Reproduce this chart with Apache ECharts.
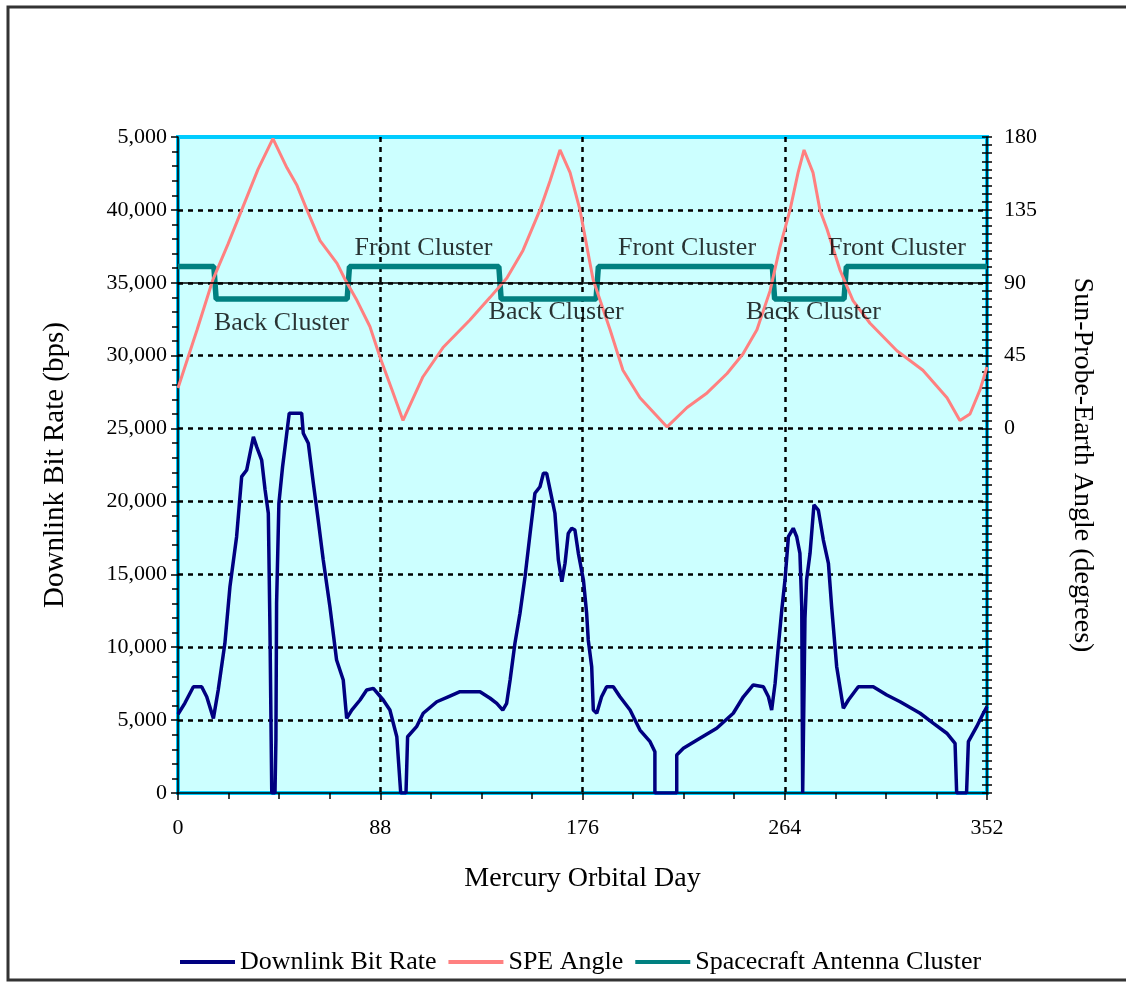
<!DOCTYPE html>
<html>
<head>
<meta charset="utf-8">
<style>html,body{margin:0;padding:0;background:#fff;}#c{width:1126px;height:983px;}</style>
<script src="https://cdn.jsdelivr.net/npm/echarts@6/dist/echarts.min.js"></script>
</head>
<body>
<div id="c"></div>
<script>
// ---- data ----
var seriesNames = ['Downlink Bit Rate', 'SPE Angle', 'Spacecraft Antenna Cluster'];
var xTickLabels = ['0', '88', '176', '264', '352'];
var leftTickLabels = ['0', '5,000', '10,000', '15,000', '20,000', '25,000', '30,000', '35,000', '40,000', '5,000'];
var rightTickLabels = ['', '', '', '', '', '0', '45', '90', '135', '180'];

var downDays = [0,0.6,3,6.7,10.3,12.5,15.4,17.5,20.4,22.6,25.5,27.7,29.9,32.8,34.2,36.4,37.9,39.3,40.0,40.8,42.2,42.6,42.9,43.9,45.5,46.6,48.4,53.8,54.5,56.7,58.9,61.0,63.2,66.1,69.0,71.9,73.4,75.6,79.2,82.1,85.0,89.3,92.2,95.2,96.9,99.2,99.9,103.8,106.7,112.6,118.3,122.7,131.4,135.8,138.7,141.3,143.0,144.5,146.6,148.8,151.0,153.2,155.3,157.5,159.0,160.4,161.9,164.0,165.5,167.0,168.4,169.8,171.3,172.7,174.2,176.4,177.8,178.5,180.0,180.7,182.2,184.3,186.5,189.4,192.3,196.7,201.0,205.4,207.5,207.5,217.0,217.0,219.9,227.1,234.4,241.6,246.0,250.3,254.7,256.9,258.3,259.8,261.2,262.7,264.1,265.6,267.7,269.2,270.6,271.4,271.8,272.4,272.8,273.5,275.0,276.7,278.6,280.8,283.0,284.4,286.6,289.5,291.7,296.0,302.5,308.4,314.2,322.9,328.7,334.5,338.1,338.8,343.1,343.9,347.5,350.4,352];
var downRates = [5400,5470,6170,7290,7290,6600,5120,7070,10270,14150,17580,21700,22160,24440,23760,22840,20790,19190,11410,0,0,3640,13010,19870,22380,23760,26050,26050,24680,23990,21240,18730,15980,12780,9120,7750,5120,5690,6380,7070,7180,6380,5690,3860,0,0,3860,4550,5470,6260,6650,6950,6950,6500,6150,5690,6150,7750,10270,12330,14840,17810,20560,21010,21930,21930,20790,19190,15980,14500,15760,17810,18160,18040,16440,14610,12330,10500,8660,5690,5470,6600,7290,7290,6600,5690,4320,3520,2830,0,0,2610,3070,3750,4440,5470,6600,7410,7290,6600,5690,7520,10040,12550,14610,17580,18160,17580,16440,12780,0,0,12000,14610,16440,19760,19410,17350,15760,12780,8660,5810,6380,7290,7290,6720,6260,5470,4780,4100,3410,0,0,3520,4550,5470,5920];

var speDays = [0,8.3,15.2,21.8,28.3,34.8,41.3,47.4,51.8,56.1,61.8,69.2,72.7,77.9,83.5,87.9,93.1,97.9,106.6,115.3,127.0,135.8,143.1,150.1,157.5,161.9,166.2,170.6,174.9,180.6,188.0,193.6,201.0,212.8,221.5,230.2,238.9,245.8,251.9,257.6,261.9,266.3,269.8,272.4,276.3,279.3,282.4,288.0,293.7,301.1,312.8,324.1,334.6,340.2,344.6,349.0,352];
var speAngles = [25,61,92,114,137,160,179,161,150,135,116,102,92,79,63,44,24,5,32,50,67,81,93,110,135,153,172,158,135,92,61,36,19,1,13,22,34,46,61,85,112,135,158,172,158,135,123,98,79,65,48,36,19,5,9,24,38];

var antDays = [0,15.6,16.6,73.6,74.6,139.6,140.6,181.9,182.9,258.6,259.6,289.8,290.8,352];
var antLevels = [100,100,80,80,100,100,80,80,100,100,80,80,100,100];

var annoTexts = ['Back Cluster', 'Front Cluster', 'Back Cluster', 'Front Cluster', 'Back Cluster', 'Front Cluster'];
var annoDays = [45.0, 106.8, 164.5, 221.5, 276.5, 312.8];
var annoAngles = [65, 111.3, 71.8, 111.3, 71.8, 111.3];
var boundaryAngle = 90;

// ---- build ----
function zip(a, b) { return a.map(function (v, i) { return [v, b[i]]; }); }
var FONT = 'Liberation Serif';
var chart = echarts.init(document.getElementById('c'), null, { renderer: 'canvas' });
var dotted = { color: '#000', width: 2.5, type: [5, 5] };
var tickStyle = { color: '#000', width: 1.5 };

chart.setOption({
  backgroundColor: '#fff',
  animation: false,
  textStyle: { fontFamily: FONT, color: '#000' },
  graphic: [{
    type: 'rect', shape: { x: 8, y: 7, width: 1130, height: 973 },
    style: { fill: 'none', stroke: '#333', lineWidth: 3 }, z: 100
  }],
  grid: {
    left: 178, right: 139, top: 137, bottom: 190, show: true,
    backgroundColor: '#CCFFFF', borderColor: '#00CCFF', borderWidth: 4
  },
  legend: {
    data: seriesNames.map(function (n) { return { name: n, icon: 'rect' }; }),
    left: 180, top: 949, padding: 0, itemWidth: 55, itemHeight: 4, itemGap: 12,
    textStyle: { fontFamily: FONT, fontSize: 26, color: '#000' }
  },
  xAxis: {
    type: 'value', min: 0, max: 352, interval: 88,
    name: 'Mercury Orbital Day', nameLocation: 'middle', nameGap: 72,
    nameTextStyle: { fontFamily: FONT, fontSize: 28, color: '#000' },
    axisLine: { show: true, lineStyle: tickStyle },
    axisTick: { show: true, length: 7, lineStyle: tickStyle },
    minorTick: { show: true, splitNumber: 4, length: 6, lineStyle: tickStyle },
    axisLabel: { fontFamily: FONT, fontSize: 22, color: '#000', margin: 24,
      formatter: function (v) { return xTickLabels[Math.round(v / 88)]; } },
    splitLine: { show: true, showMinLine: false, showMaxLine: false, lineStyle: dotted }
  },
  yAxis: [{
    type: 'value', min: 0, max: 45000, interval: 5000, position: 'left',
    name: 'Downlink Bit Rate (bps)', nameLocation: 'middle', nameGap: 108,
    nameTextStyle: { fontFamily: FONT, fontSize: 29, color: '#000' },
    axisLine: { show: true, lineStyle: tickStyle },
    axisTick: { show: true, length: 7, lineStyle: tickStyle },
    minorTick: { show: true, splitNumber: 5, length: 6, lineStyle: tickStyle },
    axisLabel: { fontFamily: FONT, fontSize: 22, color: '#000', margin: 11,
      formatter: function (v) { return leftTickLabels[Math.round(v / 5000)]; } },
    splitLine: { show: true, showMinLine: false, showMaxLine: false, lineStyle: dotted }
  }, {
    type: 'value', min: -225, max: 180, interval: 45, position: 'right',
    name: 'Sun-Probe-Earth Angle (degrees)', nameLocation: 'middle', nameGap: 81, nameRotate: -90,
    nameTextStyle: { fontFamily: FONT, fontSize: 28, color: '#000' },
    axisLine: { show: true, lineStyle: tickStyle },
    axisTick: { show: true, length: 5, lineStyle: tickStyle },
    minorTick: { show: true, splitNumber: 9, length: 5, lineStyle: tickStyle },
    axisLabel: { fontFamily: FONT, fontSize: 22, color: '#000', margin: 17,
      formatter: function (v) { return rightTickLabels[Math.round((v + 225) / 45)]; } },
    splitLine: { show: false }
  }, {
    type: 'value', min: -225, max: 180, interval: 45, position: 'right',
    axisLine: { show: false },
    axisTick: { show: true, inside: true, length: 5, lineStyle: tickStyle },
    minorTick: { show: true, splitNumber: 9, length: 5, lineStyle: tickStyle },
    axisLabel: { show: false },
    splitLine: { show: false }
  }],
  series: [{
    name: seriesNames[0], type: 'line', yAxisIndex: 0, data: zip(downDays, downRates),
    showSymbol: false, symbol: 'none', lineStyle: { color: '#000080', width: 3.5 }, itemStyle: { color: '#000080' }, z: 5
  }, {
    name: seriesNames[1], type: 'line', yAxisIndex: 1, data: zip(speDays, speAngles),
    showSymbol: false, symbol: 'none', lineStyle: { color: '#FF8080', width: 3 }, itemStyle: { color: '#FF8080' }, z: 4
  }, {
    name: seriesNames[2], type: 'line', yAxisIndex: 1, data: zip(antDays, antLevels),
    showSymbol: false, symbol: 'none', lineStyle: { color: '#008080', width: 5.5 }, itemStyle: { color: '#008080' }, z: 3,
    markLine: { silent: true, symbol: 'none', label: { show: false },
      lineStyle: { color: '#000', width: 1.5, type: 'solid' }, data: [{ yAxis: boundaryAngle }] }
  }, {
    name: 'labels', type: 'scatter', yAxisIndex: 1, symbolSize: 0, z: 6,
    data: annoDays.map(function (d, i) { return { value: [d, annoAngles[i]], name: annoTexts[i] }; }),
    label: { show: true, position: 'inside', formatter: '{b}', fontFamily: FONT, fontSize: 26, color: '#000' }
  }]
});
</script>
</body>
</html>
